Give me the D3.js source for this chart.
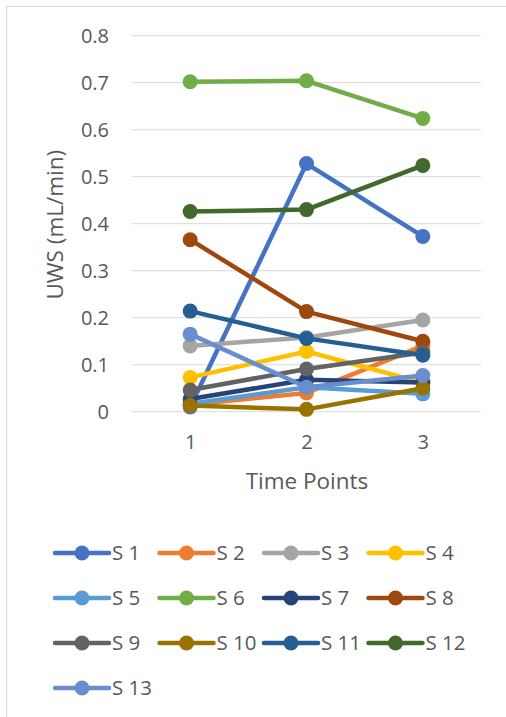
<!DOCTYPE html>
<html>
<head>
<meta charset="utf-8">
<script src="https://cdn.jsdelivr.net/npm/d3@7"></script>
<style>
  html, body { margin: 0; padding: 0; background: #fff; }
  svg { display: block; font-family: "Open Sans", "Noto Sans", sans-serif; }
</style>
</head>
<body>
<svg id="chart" width="506" height="717"></svg>
<script>
// Time points on the x axis
const timePoints = [1, 2, 3];

// Series names and colours
const seriesNames = ["S 1", "S 2", "S 3", "S 4", "S 5", "S 6", "S 7", "S 8", "S 9", "S 10", "S 11", "S 12", "S 13"];
const seriesColors = ["#4472C4", "#ED7D31", "#A5A5A5", "#FFC000", "#5B9BD5", "#70AD47",
                      "#264478", "#9E480E", "#636363", "#997300", "#255E91", "#43682B", "#698ED0"];

// UWS (mL/min) per series at time points 1, 2, 3
const s1  = [0.010, 0.528, 0.373];
const s2  = [0.015, 0.040, 0.140];
const s3  = [0.140, 0.158, 0.195];
const s4  = [0.073, 0.128, 0.062];
const s5  = [0.017, 0.052, 0.038];
const s6  = [0.702, 0.704, 0.624];
const s7  = [0.027, 0.068, 0.062];
const s8  = [0.366, 0.213, 0.150];
const s9  = [0.046, 0.091, 0.126];
const s10 = [0.013, 0.005, 0.050];
const s11 = [0.214, 0.156, 0.120];
const s12 = [0.426, 0.430, 0.524];
const s13 = [0.165, 0.052, 0.077];
const seriesValues = [s1, s2, s3, s4, s5, s6, s7, s8, s9, s10, s11, s12, s13];

// Y axis ticks
const yTicks = [0, 0.1, 0.2, 0.3, 0.4, 0.5, 0.6, 0.7, 0.8];

const svg = d3.select("#chart");
const textColor = "#595959";

// Outer chart frame
svg.append("rect")
  .attr("x", 6.5).attr("y", 6.5)
  .attr("width", 520).attr("height", 730)
  .attr("fill", "#fff").attr("stroke", "#d9d9d9").attr("stroke-width", 1);

const plot = { left: 132, right: 481, top: 35.7, bottom: 411.7 };

const x = d3.scalePoint()
  .domain(timePoints)
  .range([plot.left, plot.right])
  .padding(0.5);

const y = d3.scaleLinear()
  .domain([0, 0.8])
  .range([plot.bottom, plot.top]);

// Horizontal gridlines
svg.append("g")
  .selectAll("line")
  .data(yTicks)
  .join("line")
  .attr("x1", plot.left).attr("x2", plot.right)
  .attr("y1", d => y(d)).attr("y2", d => y(d))
  .attr("stroke", "#d9d9d9").attr("stroke-width", 1);

// Y axis labels
const yAxis = svg.append("g")
  .attr("transform", `translate(${plot.left - 23},0)`)
  .call(d3.axisLeft(y).tickValues(yTicks).tickSize(0).tickFormat(d => d === 0 ? "0" : d3.format(".1f")(d)));
yAxis.select(".domain").remove();
yAxis.selectAll("text")
  .attr("fill", textColor)
  .attr("font-size", 20)
  .attr("font-family", "'Open Sans', 'Noto Sans', sans-serif")
  .attr("x", 0).attr("dy", "0.36em").attr("text-anchor", "end");

// X axis labels
const xAxis = svg.append("g")
  .attr("transform", `translate(0,${plot.bottom + 23})`)
  .call(d3.axisBottom(x).tickSize(0));
xAxis.select(".domain").remove();
xAxis.selectAll("text")
  .attr("fill", textColor)
  .attr("font-size", 20)
  .attr("font-family", "'Open Sans', 'Noto Sans', sans-serif")
  .attr("y", 0).attr("dy", "0.71em");

// Axis titles
svg.append("text")
  .attr("x", (plot.left + plot.right) / 2 + 0.5)
  .attr("y", 489)
  .attr("text-anchor", "middle")
  .attr("fill", textColor)
  .attr("font-size", 22.5)
  .text("Time Points");

svg.append("text")
  .attr("transform", `translate(63,${(plot.top + plot.bottom) / 2 + 1}) rotate(-90)`)
  .attr("text-anchor", "middle")
  .attr("fill", textColor)
  .attr("font-size", 22.5)
  .text("UWS (mL/min)");

// Series lines and markers
const line = d3.line()
  .x((d, i) => x(timePoints[i]))
  .y(d => y(d));

const series = svg.append("g")
  .selectAll("g")
  .data(seriesValues)
  .join("g");

series.append("path")
  .attr("d", d => line(d))
  .attr("fill", "none")
  .attr("stroke", (d, i) => seriesColors[i])
  .attr("stroke-width", 4.5)
  .attr("stroke-linejoin", "round")
  .attr("stroke-linecap", "round");

series.selectAll("circle")
  .data((d, i) => d.map((v, j) => ({ v, j, c: seriesColors[i] })))
  .join("circle")
  .attr("cx", d => x(timePoints[d.j]))
  .attr("cy", d => y(d.v))
  .attr("r", 7.5)
  .attr("fill", d => d.c);

// Legend
const legendCols = 4;
const legend = svg.append("g")
  .selectAll("g")
  .data(seriesNames)
  .join("g")
  .attr("transform", (d, i) => `translate(${55 + (i % legendCols) * 104.5},${553 + Math.floor(i / legendCols) * 45})`);

legend.append("line")
  .attr("x1", 0).attr("x2", 54)
  .attr("stroke", (d, i) => seriesColors[i])
  .attr("stroke-width", 4.5)
  .attr("stroke-linecap", "round");

legend.append("circle")
  .attr("cx", 27).attr("r", 7.5)
  .attr("fill", (d, i) => seriesColors[i]);

legend.append("text")
  .attr("x", 57).attr("dy", "0.36em")
  .attr("fill", textColor)
  .attr("font-size", 20.5)
  .text(d => d);
</script>
</body>
</html>
